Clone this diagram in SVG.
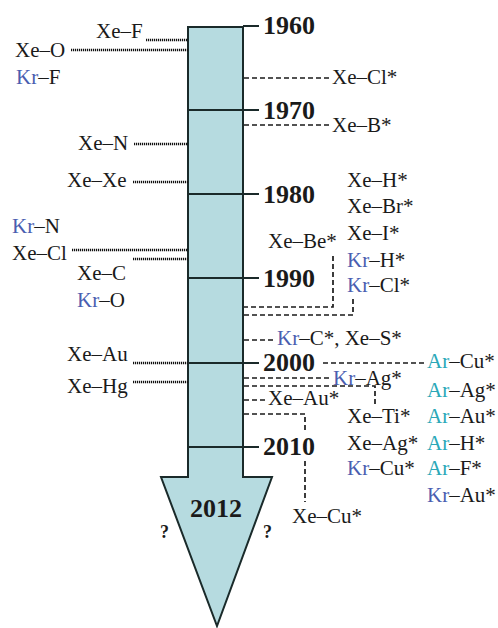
<svg xmlns="http://www.w3.org/2000/svg" width="498" height="628" viewBox="0 0 498 628">
<style>
text{font-family:"Liberation Serif","Times New Roman",serif;fill:#1a1a1a}
.l{font-size:21px}
.y{font-size:26px;font-weight:bold}
.q{font-size:18px;font-weight:bold}
.kr{fill:#4a5db0}
.ar{fill:#2aa8b8}
.dot{stroke:#111;stroke-width:2.6;stroke-dasharray:1.2 0.8;fill:none}
.dash{stroke:#1a1a1a;stroke-width:1.7;stroke-dasharray:5 3;fill:none}
.tick{stroke:#1a2a2a;stroke-width:2;fill:none}
</style>
<g id="arrow">
<path d="M188,27 H243 V477 H272 L217,626 L161,477 H188 Z" fill="#b6dbe0" stroke="#1a2a2a" stroke-width="2"/>
<line class="tick" x1="243" y1="26" x2="259" y2="26"/>
<line class="tick" x1="188" y1="110" x2="259" y2="110"/>
<line class="tick" x1="188" y1="194" x2="259" y2="194"/>
<line class="tick" x1="188" y1="278" x2="259" y2="278"/>
<line class="tick" x1="188" y1="363" x2="259" y2="363"/>
<line class="tick" x1="188" y1="447" x2="259" y2="447"/>
</g>
<g id="years">
<text class="y" x="263" y="34">1960</text>
<text class="y" x="263" y="119">1970</text>
<text class="y" x="263" y="203">1980</text>
<text class="y" x="263" y="287">1990</text>
<text class="y" x="263" y="371">2000</text>
<text class="y" x="263" y="455">2010</text>
<text class="y" x="216" y="517" text-anchor="middle">2012</text>
<text class="q" x="160" y="538">?</text>
<text class="q" x="263" y="538">?</text>
</g>
<g id="connectors">
<line class="dot" x1="146" y1="40" x2="188" y2="40"/>
<line class="dot" x1="71" y1="50" x2="188" y2="50"/>
<line class="dot" x1="134" y1="144" x2="188" y2="144"/>
<line class="dot" x1="133" y1="182" x2="188" y2="182"/>
<line class="dot" x1="72" y1="250" x2="188" y2="250"/>
<line class="dot" x1="133" y1="259" x2="188" y2="259"/>
<line class="dot" x1="133" y1="363" x2="188" y2="363"/>
<line class="dot" x1="133" y1="382" x2="188" y2="382"/>
<line class="dash" x1="244" y1="78" x2="330" y2="78"/>
<line class="dash" x1="244" y1="125" x2="330" y2="125"/>
<path class="dash" d="M333,256 V307 H244"/>
<path class="dash" d="M353,299 V315 H244"/>
<line class="dash" x1="244" y1="340" x2="273" y2="340"/>
<line class="dash" x1="323" y1="363" x2="425" y2="363"/>
<line class="dash" x1="244" y1="378" x2="330" y2="378"/>
<path class="dash" d="M244,386 H375 V404"/>
<line class="dash" x1="244" y1="400" x2="266" y2="400"/>
<path class="dash" d="M244,414 H305 V433"/>
<line class="dash" x1="305" y1="461" x2="305" y2="502"/>
</g>
<g id="left-labels">
<text class="l" x="96" y="38">Xe–F</text>
<text class="l" x="15" y="57">Xe–O</text>
<text class="l" x="16" y="84"><tspan class="kr">Kr</tspan>–F</text>
<text class="l" x="78" y="150">Xe–N</text>
<text class="l" x="67" y="187">Xe–Xe</text>
<text class="l" x="12" y="233"><tspan class="kr">Kr</tspan>–N</text>
<text class="l" x="12" y="260">Xe–Cl</text>
<text class="l" x="77" y="280">Xe–C</text>
<text class="l" x="77" y="307"><tspan class="kr">Kr</tspan>–O</text>
<text class="l" x="67" y="361">Xe–Au</text>
<text class="l" x="67" y="393">Xe–Hg</text>
</g>
<g id="right-labels">
<text class="l" x="332" y="84">Xe–Cl*</text>
<text class="l" x="332" y="132">Xe–B*</text>
<text class="l" x="347" y="187">Xe–H*</text>
<text class="l" x="347" y="213">Xe–Br*</text>
<text class="l" x="347" y="240">Xe–I*</text>
<text class="l" x="347" y="267"><tspan class="kr">Kr</tspan>–H*</text>
<text class="l" x="347" y="292"><tspan class="kr">Kr</tspan>–Cl*</text>
<text class="l" x="268" y="248">Xe–Be*</text>
<text class="l" x="277" y="345"><tspan class="kr">Kr</tspan>–C*, Xe–S*</text>
<text class="l" x="333" y="385"><tspan class="kr">Kr</tspan>–Ag*</text>
<text class="l" x="268" y="405">Xe–Au*</text>
<text class="l" x="347" y="423">Xe–Ti*</text>
<text class="l" x="347" y="450">Xe–Ag*</text>
<text class="l" x="347" y="475"><tspan class="kr">Kr</tspan>–Cu*</text>
<text class="l" x="292" y="523">Xe–Cu*</text>
<text class="l" x="427" y="368"><tspan class="ar">Ar</tspan>–Cu*</text>
<text class="l" x="427" y="397"><tspan class="ar">Ar</tspan>–Ag*</text>
<text class="l" x="427" y="423"><tspan class="ar">Ar</tspan>–Au*</text>
<text class="l" x="427" y="450"><tspan class="ar">Ar</tspan>–H*</text>
<text class="l" x="427" y="475"><tspan class="ar">Ar</tspan>–F*</text>
<text class="l" x="427" y="502"><tspan class="kr">Kr</tspan>–Au*</text>
</g>
</svg>
